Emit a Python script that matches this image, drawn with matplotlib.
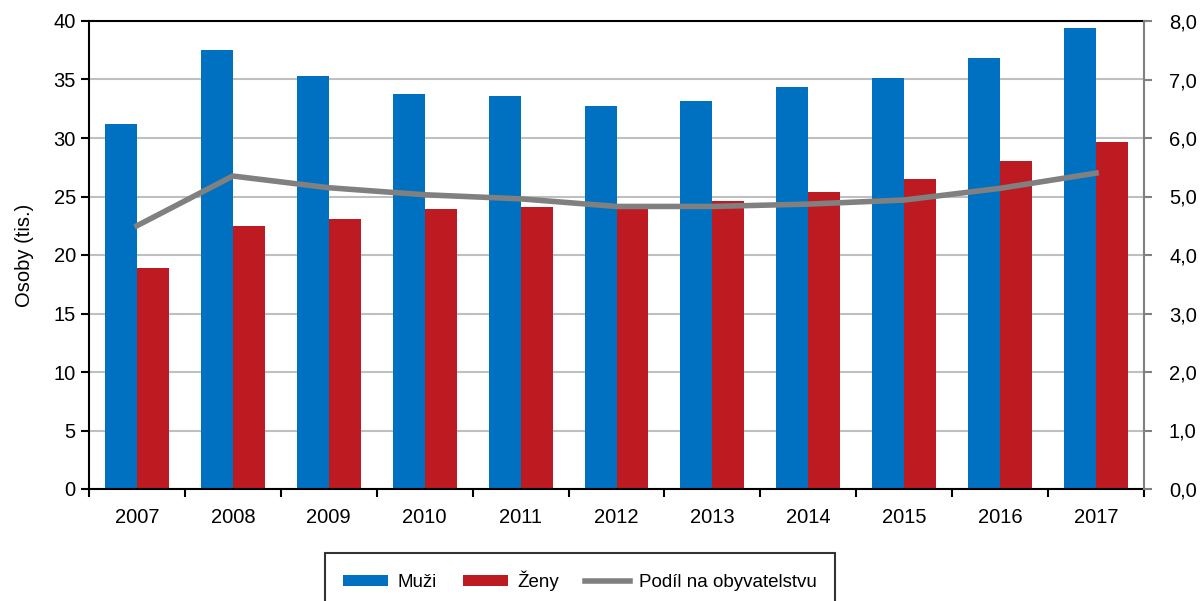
import matplotlib
matplotlib.use('Agg')
import matplotlib.pyplot as plt
import numpy as np

plt.rcParams['font.family'] = ['Liberation Sans', 'DejaVu Sans']

years = ["2007", "2008", "2009", "2010", "2011", "2012", "2013", "2014", "2015", "2016", "2017"]
muzi = [31.2, 37.5, 35.3, 33.8, 33.6, 32.7, 33.2, 34.4, 35.1, 36.8, 39.4]
zeny = [18.9, 22.5, 23.1, 23.9, 24.1, 24.1, 24.6, 25.4, 26.5, 28.0, 29.7]
podil = [4.50, 5.35, 5.15, 5.03, 4.96, 4.83, 4.83, 4.87, 4.94, 5.14, 5.40]

BLUE = '#0070c0'
RED = '#be1a22'
GREY = '#808080'

fig = plt.figure(figsize=(12.03, 6.01), dpi=100)
ax = fig.add_axes([89 / 1203, 1 - 489 / 601, (1144 - 89) / 1203, (489 - 21) / 601])

x = np.arange(len(years))
w = 1 / 3
ax.bar(x - w / 2, muzi, width=w, color=BLUE, label='Muži', zorder=2)
ax.bar(x + w / 2, zeny, width=w, color=RED, label='Ženy', zorder=2)

ax.set_xlim(-0.5, len(years) - 0.5)
ax.set_ylim(0, 40)
ax.set_yticks(range(0, 41, 5))
ax.yaxis.grid(True, color='#bfbfbf', linewidth=1.5, zorder=0)
ax.set_axisbelow(True)
ax.set_xticks(np.arange(-0.5, len(years), 1))
ax.set_xticklabels([])
ax.set_xticks(x, minor=True)
ax.set_xticklabels(years, minor=True)
ax.tick_params(axis='x', which='major', length=6, width=1.5, direction='out')
ax.tick_params(axis='x', which='minor', length=0, pad=14, labelsize=14.5)
ax.tick_params(axis='y', length=6, width=1.5, direction='out', labelsize=14.5)
ax.set_ylabel('Osoby (tis.)', fontsize=14.5, labelpad=14)
for s in ['left', 'top', 'bottom']:
    ax.spines[s].set_linewidth(1.5)
    ax.spines[s].set_color('black')
ax.spines['right'].set_visible(False)

ax2 = ax.twinx()
ax2.plot(x, podil, color=GREY, linewidth=4, label='Podíl na obyvatelstvu', zorder=3)
ax2.set_ylim(0, 8)
ax2.set_yticks(range(0, 9))
ax2.set_yticklabels([f"{v},0" for v in range(0, 9)])
ax2.tick_params(axis='y', length=6, width=1.5, color=GREY, direction='out', labelsize=14.5, pad=12)
ax2.spines['right'].set_color(GREY)
ax2.spines['right'].set_linewidth(1.5)
for s in ['left', 'top', 'bottom']:
    ax2.spines[s].set_visible(False)

h1, l1 = ax.get_legend_handles_labels()
h2, l2 = ax2.get_legend_handles_labels()
leg = fig.legend(h1 + h2, l1 + l2, loc='upper left', bbox_to_anchor=(325 / 1203, 1 - 553 / 601),
                 ncol=3, fontsize=13.5, frameon=True, fancybox=False, edgecolor='black',
                 handlelength=2.4, handleheight=0.55, handletextpad=0.5,
                 columnspacing=1.4, borderpad=0.95, borderaxespad=0)
leg.get_frame().set_linewidth(1.5)

fig.savefig('out.png', dpi=100)
